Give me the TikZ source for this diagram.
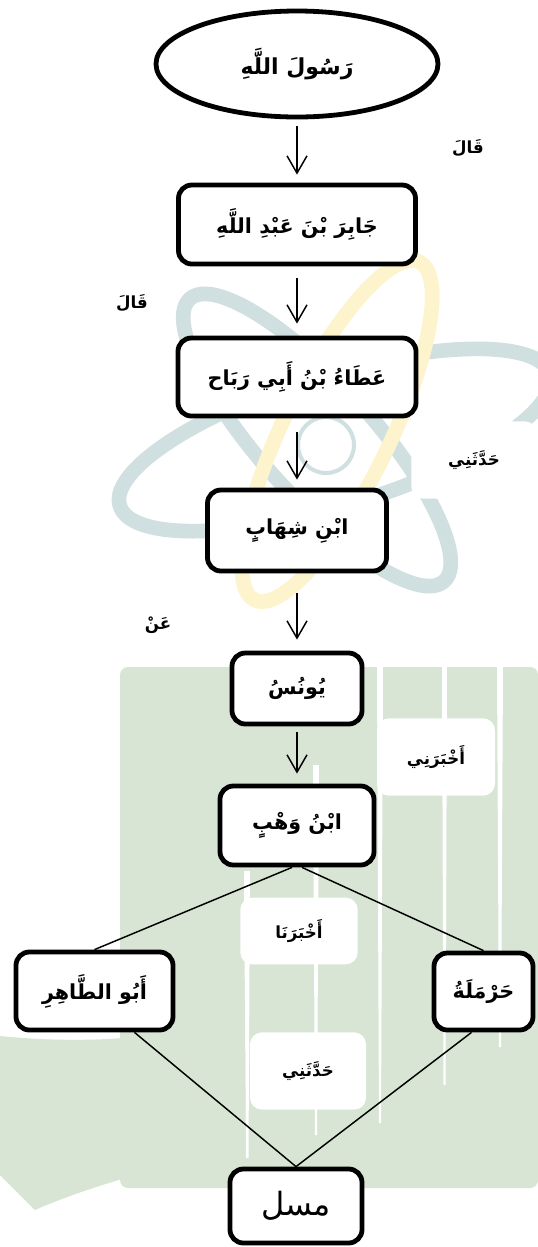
\documentclass[tikz,border=0pt]{standalone}
\usepackage{fontspec}
\usetikzlibrary{arrows.meta,calc,shapes.geometric}
\newfontfamily\arabicfont[Script=Arabic]{DejaVu Sans}
\TeXXeTstate=1

\definecolor{wmgreen}{HTML}{D9E5D4}
\definecolor{wmteal}{HTML}{D0E0E0}
\definecolor{wmyellow}{HTML}{FDF4CE}

\tikzset{
  box/.style={draw=black, line width=3.6pt, rounded corners=10pt, fill=white,
    inner sep=0pt, font=\arabicfont\bfseries\fontsize{15.5}{18}\selectfont},
  ellbox/.style={box, ellipse, font=\arabicfont\bfseries\fontsize{16.5}{20}\selectfont},
  lbl/.style={inner sep=0pt, font=\arabicfont\bfseries\fontsize{12.5}{15}\selectfont},
  lblbg/.style={lbl, fill=white, rounded corners=9pt},
  arr/.style={line width=1.1pt, -{Straight Barb[length=13pt,width=15pt,line width=1.1pt]}},
  link/.style={line width=1.1pt},
  orbit/.style={line width=11pt},
}

\begin{document}
\begin{tikzpicture}[x=0.75pt,y=-0.75pt]
\fill[white] (0,0) rectangle (538,1247);
\useasboundingbox (0,0) rectangle (538,1247);

% faint emblem in the background
\begin{scope}
  \clip (0,0) rectangle (538,1247);
  \draw[orbit, wmteal] (335,440) ellipse [x radius=225, y radius=66, rotate=17];
  \draw[orbit, wmteal] (317,440) ellipse [x radius=190, y radius=56, rotate=-48];
  \draw[orbit, wmyellow] (337,431) ellipse [x radius=188, y radius=53, rotate=64];
  \draw[wmteal, line width=3pt, fill=white] (326,445) circle [radius=28];
  % green bars
  \fill[wmgreen, rounded corners=6pt] (120,667) rectangle (538,1188);
  \fill[white] (244,871) -- (250,871) -- (248.5,1158) -- (246,1158) -- cycle;
  \fill[white] (313,765) -- (319,765) -- (317,1135) -- (315,1135) -- cycle;
  \fill[white] (377,667) -- (383,667) -- (381,1123) -- (379,1123) -- cycle;
  \fill[white] (442,667) -- (447,667) -- (445.5,1085) -- (443.5,1085) -- cycle;
  \fill[white] (497,667) -- (503,667) -- (501,1047) -- (499,1047) -- cycle;
  \fill[wmgreen] (0,1036) .. controls (90,1045) and (200,1040) .. (245,1000)
    -- (245,1150) .. controls (160,1165) and (80,1190) .. (35,1210)
    -- (0,1175) -- cycle;
\end{scope}

% narrators
\node[ellbox, minimum width=211.5pt, minimum height=79.5pt] (rasul) at (297,64) {\beginR رَسُولَ اللَّهِ\endR};
\node[box, minimum width=177.75pt, minimum height=59.25pt] (jabir) at (297,224.5) {\beginR جَابِرَ بْنَ عَبْدِ اللَّهِ\endR};
\node[box, minimum width=178.5pt, minimum height=58.5pt] (ata) at (297,377) {\beginR عَطَاءُ بْنُ أَبِي رَبَاح\endR};
\node[box, minimum width=134.25pt, minimum height=60.75pt] (shihab) at (297,530.5) {\beginR ابْنِ شِهَابٍ\endR};
\node[box, minimum width=97.5pt, minimum height=53.25pt] (yunus) at (297,688.5) {\beginR يُونُسُ\endR};
\node[box, minimum width=115.5pt, minimum height=59.25pt] (wahb) at (297,825.5) {\beginR ابْنُ وَهْبٍ\endR};
\node[box, minimum width=117.75pt, minimum height=58.5pt] (abu) at (94.5,991) {\beginR أَبُو الطَّاهِرِ\endR};
\node[box, minimum width=74.25pt, minimum height=57.75pt] (harm) at (483.5,991.5) {\beginR حَرْمَلَةُ\endR};
\node[box, minimum width=99pt, minimum height=55.5pt, font=\arabicfont\fontsize{24}{28}\selectfont] (muslim) at (296,1206) {\beginR مسل\endR};

% branching links
\draw[link] ($(wahb.south)+(-5,0)$) -- (abu.north);
\draw[link] ($(wahb.south)+(5,0)$) -- (harm.north);
\draw[link] ($(abu.south)+(40,0)$) -- (muslim.north);
\draw[link] ($(harm.south)+(-12,0)$) -- (muslim.north);

% transmission terms
\node[lbl] (qal1) at (468,148) {\beginR قَالَ\endR};
\node[lbl] (qal2) at (132,303) {\beginR قَالَ\endR};
\node[lblbg, minimum width=94pt, minimum height=58pt] (hadd1) at (474,460) {\beginR حَدَّثَنِي\endR};
\node[lbl] (an) at (158,625) {\beginR عَنْ\endR};
\node[lblbg, minimum width=88.5pt, minimum height=58pt] (akh1) at (436,757) {\beginR أَخْبَرَنِي\endR};
\node[lblbg, minimum width=88pt, minimum height=50pt] (akh2) at (299,931) {\beginR أَخْبَرَنَا\endR};
\node[lblbg, minimum width=87pt, minimum height=58pt] (hadd2) at (308,1071) {\beginR حَدَّثَنِي\endR};

% chain arrows
\draw[arr, shorten <=5.25pt, shorten >=6pt] (rasul.south) -- (jabir.north);
\draw[arr, shorten <=9pt, shorten >=9pt] (jabir.south) -- (ata.north);
\draw[arr, shorten <=10.5pt, shorten >=6pt] (ata.south) -- (shihab.north);
\draw[arr, shorten <=15pt, shorten >=8.25pt] (shihab.south) -- (yunus.north);
\draw[arr, shorten <=4.5pt, shorten >=7.5pt] (yunus.south) -- (wahb.north);
\end{tikzpicture}
\end{document}
